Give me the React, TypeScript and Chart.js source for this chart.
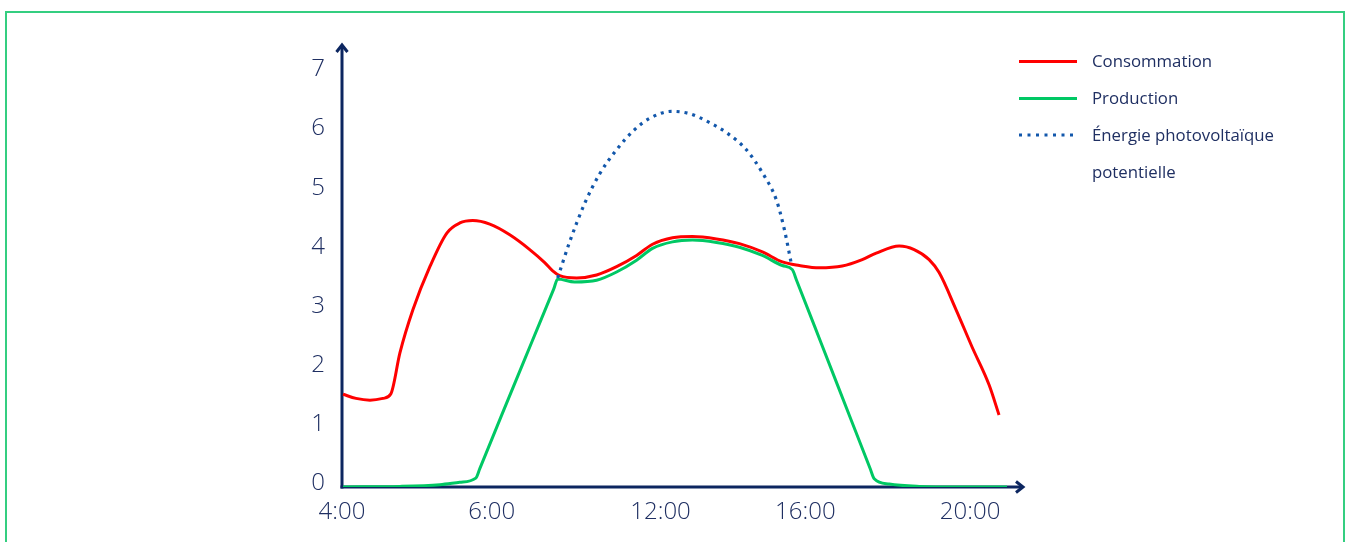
import React, { useEffect, useRef } from "react";
import { Chart, registerables } from "chart.js";

Chart.register(...registerables);

// X positions are along the drawn time axis (axis units, non-uniform hour spacing as in the source)
const xTickPositions = [0, 150, 319, 464, 629];
const xTickLabels = ["4:00", "6:00", "12:00", "16:00", "20:00"];
const yTickValues = [0, 1, 2, 3, 4, 5, 6, 7];

const consoX = [1, 14, 28, 41, 49, 58, 71, 88, 105, 118, 131, 148, 168, 188, 203, 211, 218, 235, 255, 275, 295, 311, 331, 351, 375, 398, 421, 441, 458, 478, 501, 521, 535, 558, 573, 588, 598, 615, 631, 648, 658];
const consoY = [1.57, 1.5, 1.47, 1.5, 1.58, 2.27, 3.0, 3.73, 4.3, 4.47, 4.51, 4.45, 4.27, 4.02, 3.8, 3.66, 3.58, 3.54, 3.59, 3.73, 3.92, 4.11, 4.22, 4.24, 4.2, 4.12, 3.98, 3.81, 3.75, 3.71, 3.74, 3.85, 3.96, 4.08, 4.02, 3.85, 3.63, 3.0, 2.37, 1.73, 1.22];

const prodX = [1, 58, 98, 118, 134, 138, 160, 190, 212, 216, 233, 255, 275, 295, 311, 331, 351, 375, 398, 421, 441, 451, 455, 480, 510, 529, 533, 548, 578, 618, 666];
const prodY = [0, 0.01, 0.04, 0.08, 0.15, 0.31, 1.22, 2.45, 3.35, 3.52, 3.47, 3.5, 3.64, 3.84, 4.04, 4.15, 4.18, 4.14, 4.06, 3.92, 3.75, 3.68, 3.51, 2.43, 1.13, 0.31, 0.14, 0.05, 0.01, 0, 0];

const pvX = [216, 228, 243, 258, 275, 293, 308, 330, 348, 368, 385, 405, 421, 435, 443, 450];
const pvY = [3.54, 4.15, 4.8, 5.3, 5.71, 6.05, 6.24, 6.36, 6.32, 6.17, 6.0, 5.71, 5.32, 4.86, 4.36, 3.78];

const seriesLabels = ["Consommation", "Production", "Énergie photovoltaïque potentielle"];

const NAVY = "#0c2660";
const TEXT = "#1f2f62";
const RED = "#ff0000";
const GREEN = "#00c864";
const BLUE = "#1257ab";

const zip = (xs: number[], ys: number[]) => xs.map((x, i) => ({ x, y: ys[i] }));

const axesPlugin = {
  id: "arrowAxes",
  beforeDatasetsDraw(chart: any) {
    const { ctx, chartArea } = chart;
    const { left, right, top, bottom } = chartArea;
    ctx.save();
    ctx.strokeStyle = NAVY;
    ctx.lineWidth = 3;
    ctx.lineJoin = "miter";
    ctx.lineCap = "butt";
    ctx.beginPath();
    ctx.moveTo(left, bottom + 1.5);
    ctx.lineTo(left, top + 1);
    ctx.stroke();
    ctx.beginPath();
    ctx.moveTo(left - 5.5, top + 8);
    ctx.lineTo(left, top + 1);
    ctx.lineTo(left + 5.5, top + 8);
    ctx.stroke();
    ctx.beginPath();
    ctx.moveTo(left - 1.5, bottom);
    ctx.lineTo(right - 1, bottom);
    ctx.stroke();
    ctx.beginPath();
    ctx.moveTo(right - 8, bottom - 5.5);
    ctx.lineTo(right - 1, bottom);
    ctx.lineTo(right - 8, bottom + 5.5);
    ctx.stroke();
    ctx.restore();
  },
};

export default function App() {
  const canvasRef = useRef<HTMLCanvasElement | null>(null);

  useEffect(() => {
    if (!canvasRef.current) return;
    const tickFont = { family: "'Open Sans', 'Noto Sans', sans-serif", size: 24, weight: 300 as any };
    const chart = new Chart(canvasRef.current, {
      type: "line",
      data: {
        datasets: [
          {
            label: seriesLabels[2],
            data: zip(pvX, pvY),
            borderColor: BLUE,
            borderWidth: 3.2,
            borderDash: [3, 5],
            pointRadius: 0,
            cubicInterpolationMode: "monotone",
            fill: false,
          },
          {
            label: seriesLabels[1],
            data: zip(prodX, prodY),
            borderColor: GREEN,
            borderWidth: 3,
            pointRadius: 0,
            cubicInterpolationMode: "monotone",
            fill: false,
          },
          {
            label: seriesLabels[0],
            data: zip(consoX, consoY),
            borderColor: RED,
            borderWidth: 3,
            pointRadius: 0,
            cubicInterpolationMode: "monotone",
            fill: false,
          },
        ],
      },
      options: {
        animation: false,
        responsive: true,
        maintainAspectRatio: false,
        layout: { padding: { left: 292, right: 325, top: 44, bottom: 0 } },
        plugins: { legend: { display: false }, tooltip: { enabled: false } },
        events: [],
        scales: {
          x: {
            type: "linear",
            min: 0,
            max: 683,
            grid: { display: false },
            border: { display: false },
            afterBuildTicks: (s: any) => {
              s.ticks = xTickPositions.map((v) => ({ value: v }));
            },
            afterFit: (s: any) => {
              s.height = 55;
            },
            ticks: {
              autoSkip: false,
              maxRotation: 0,
              padding: 3,
              color: TEXT,
              font: tickFont,
              callback: (v: any) => {
                const i = xTickPositions.indexOf(Number(v));
                return i >= 0 ? xTickLabels[i] : "";
              },
            },
          },
          y: {
            type: "linear",
            min: 0,
            max: 7.5,
            grid: { display: false },
            border: { display: false },
            afterBuildTicks: (s: any) => {
              s.ticks = yTickValues.map((v) => ({ value: v }));
            },
            afterFit: (s: any) => {
              s.width = 50;
            },
            ticks: {
              padding: 9,
              labelOffset: -4,
              color: TEXT,
              font: tickFont,
              callback: (v: any) => String(v),
            },
          },
        },
      },
      plugins: [axesPlugin],
    });
    return () => chart.destroy();
  }, []);

  const legendFont: React.CSSProperties = {
    position: "absolute",
    left: 1092,
    fontFamily: "'Open Sans', 'Noto Sans', sans-serif",
    fontSize: 16.8,
    lineHeight: "20px",
    color: TEXT,
    whiteSpace: "nowrap",
  };

  return (
    <div style={{ position: "fixed", left: 0, top: 0, width: 1349, height: 542, background: "#fff", overflow: "hidden" }}>
      <div
        style={{
          position: "absolute",
          left: 5,
          top: 11,
          width: 1336,
          height: 600,
          border: "2px solid #34ce80",
          boxSizing: "content-box",
        }}
      />
      <div style={{ position: "absolute", left: 0, top: 0, width: 1349, height: 542 }}>
        <canvas ref={canvasRef} />
      </div>
      <div style={{ position: "absolute", left: 1019, top: 60, width: 58, height: 3, background: RED }} />
      <div style={{ ...legendFont, top: 51 }}>{seriesLabels[0]}</div>
      <div style={{ position: "absolute", left: 1019, top: 97, width: 58, height: 3, background: GREEN }} />
      <div style={{ ...legendFont, top: 88 }}>{seriesLabels[1]}</div>
      <svg style={{ position: "absolute", left: 1018, top: 132 }} width={62} height={6}>
        <line x1={1} y1={3} x2={60} y2={3} stroke={BLUE} strokeWidth={3.2} strokeDasharray="3 5.5" />
      </svg>
      <div style={{ ...legendFont, top: 125 }}>Énergie photovoltaïque</div>
      <div style={{ ...legendFont, top: 162 }}>potentielle</div>
    </div>
  );
}
